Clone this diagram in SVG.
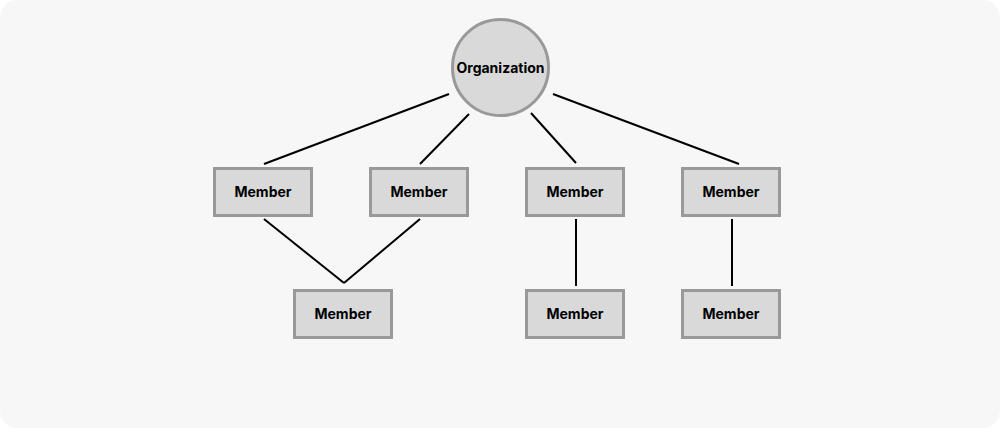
<svg xmlns="http://www.w3.org/2000/svg" width="1000" height="428" viewBox="0 0 1000 428">
<style>
.node rect{fill:#d9d9d9;stroke:#999;stroke-width:3}
.node circle{fill:#d9d9d9;stroke:#999;stroke-width:3}
.node text{font-family:Inter,"Liberation Sans",sans-serif;font-weight:700;font-size:14px;fill:#000;text-anchor:middle;dominant-baseline:central}
#connectors line{stroke:#000;stroke-width:2}
</style>
<rect x="0" y="0" width="1000" height="428" fill="#ffffff"/>
<rect x="0" y="0" width="1000" height="428" rx="18" fill="#f7f7f7"/>
<g id="connectors">
<line x1="449" y1="94" x2="264" y2="164"/>
<line x1="469" y1="114" x2="420" y2="164"/>
<line x1="531" y1="113" x2="576" y2="163"/>
<line x1="553" y1="94" x2="739" y2="164"/>
<line x1="264" y1="219" x2="344" y2="283"/>
<line x1="420" y1="219" x2="344" y2="283"/>
<line x1="576" y1="219" x2="576" y2="286"/>
<line x1="732" y1="219" x2="732" y2="286"/>
</g>
<g id="org" class="node"><circle cx="500.5" cy="67.5" r="48"/><text x="500.5" y="67">Organization</text></g>
<g id="m1" class="node"><rect x="214.5" y="168.5" width="97" height="47"/><text x="263" y="191">Member</text></g>
<g id="m2" class="node"><rect x="370.5" y="168.5" width="97" height="47"/><text x="419" y="191">Member</text></g>
<g id="m3" class="node"><rect x="526.5" y="168.5" width="97" height="47"/><text x="575" y="191">Member</text></g>
<g id="m4" class="node"><rect x="682.5" y="168.5" width="97" height="47"/><text x="731" y="191">Member</text></g>
<g id="m5" class="node"><rect x="294.5" y="290.5" width="97" height="47"/><text x="343" y="313">Member</text></g>
<g id="m6" class="node"><rect x="526.5" y="290.5" width="97" height="47"/><text x="575" y="313">Member</text></g>
<g id="m7" class="node"><rect x="682.5" y="290.5" width="97" height="47"/><text x="731" y="313">Member</text></g>
</svg>
